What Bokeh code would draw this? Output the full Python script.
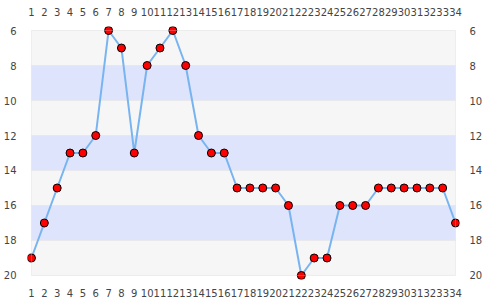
from bokeh.plotting import figure
from bokeh.models import Range1d, LinearAxis, FixedTicker, BoxAnnotation, ColumnDataSource
from bokeh.embed import file_html
from bokeh.resources import INLINE

rounds = list(range(1, 35))
position = [19, 17, 15, 13, 13, 12, 6, 7, 13, 8, 7, 6, 8, 12, 13, 13, 15,
            15, 15, 15, 16, 20, 19, 19, 16, 16, 16, 15, 15, 15, 15, 15, 15, 17]
y_ticks = list(range(6, 21, 2))

x_lo, x_hi = min(rounds), max(rounds)
y_lo, y_hi = 6, 20
px_pad_x = 0.31
px_pad_y = 0.229

p = figure(width=485, height=300, output_backend="svg", toolbar_location=None,
           x_range=Range1d(x_lo - px_pad_x, x_hi + px_pad_x),
           y_range=Range1d(y_hi + px_pad_y, y_lo - px_pad_y),
           x_axis_location=None, y_axis_location=None,
           min_border_left=26, min_border_right=26, min_border_top=26, min_border_bottom=21)
p.outline_line_color = None
p.background_fill_color = "white"
p.border_fill_color = "white"
p.xgrid.visible = False
p.ygrid.visible = False

# bands
for i, t in enumerate(y_ticks[:-1]):
    col = "#f6f6f6" if i % 2 == 0 else "#dde4fc"
    p.add_layout(BoxAnnotation(left=x_lo, right=x_hi, top=t, bottom=t + 2,
                               fill_color=col, fill_alpha=1, line_color=None, level="underlay"))
# band boundary lines
for t in y_ticks[1:-1]:
    p.add_layout(BoxAnnotation(left=x_lo, right=x_hi, top=t, bottom=t,
                               fill_alpha=0, line_color="#e2e2e2", line_width=1, level="underlay"))

src = ColumnDataSource(dict(x=rounds, y=position))
p.line("x", "y", source=src, line_color="#78b4f0", line_width=2)
p.scatter("x", "y", source=src, size=8, fill_color="red", line_color="black", line_width=1)

p.add_layout(BoxAnnotation(left=x_lo, right=x_hi, top=y_lo, bottom=y_hi,
                           fill_alpha=0, line_color="#d0d0d0", line_width=1, level="overlay"))

def style(ax, standoff):
    ax.axis_line_color = None
    ax.major_tick_line_color = None
    ax.minor_tick_line_color = None
    ax.major_label_text_font = "DejaVu Sans"
    ax.major_label_text_font_size = "10px"
    ax.major_label_text_color = "#444444"
    ax.major_label_standoff = standoff

for loc, st in (("above", 5), ("below", 3)):
    ax = LinearAxis(ticker=FixedTicker(ticks=rounds))
    style(ax, st)
    p.add_layout(ax, loc)
for loc, st in (("left", 5), ("right", 4)):
    ax = LinearAxis(ticker=FixedTicker(ticks=y_ticks))
    style(ax, st)
    p.add_layout(ax, loc)

open("out.html", "w").write(file_html(p, INLINE))
